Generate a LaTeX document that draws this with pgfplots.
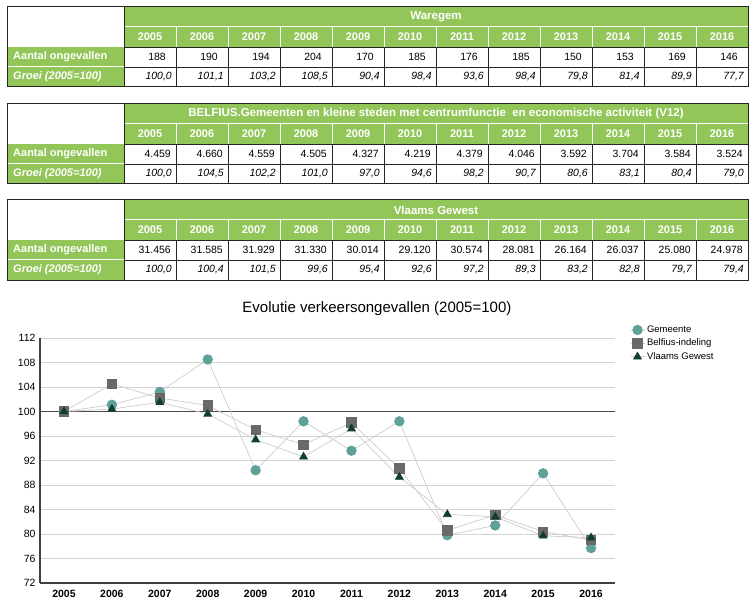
\documentclass[border=0pt]{standalone}
\usepackage{pgfplots}
\pgfplotsset{compat=1.18}
\usepackage{fontspec}
\setmainfont{Liberation Sans}
\definecolor{tg}{RGB}{146,198,88}
\definecolor{gem}{RGB}{95,160,155}
\definecolor{bel}{RGB}{105,105,105}
\definecolor{vla}{RGB}{16,62,50}
\tikzset{
  tnum/.style={font=\fontsize{10.5}{12}\selectfont},
  tnumi/.style={font=\fontsize{10.5}{12}\selectfont\itshape},
  thd/.style={text=white,font=\fontsize{11}{12}\selectfont\bfseries},
  ttl/.style={text=white,font=\fontsize{11.5}{12}\selectfont\bfseries},
  thdi/.style={text=white,font=\fontsize{11}{12}\selectfont\bfseries\itshape},
}
% #1 top y (px), #2 title, #3 counts, #4 growth, #5 right padding of counts
\newcommand{\drawtable}[5]{%
\begin{scope}[x=1pt,y=-1pt,shift={(0pt,606pt)},every node/.style={inner sep=0pt}]
\fill[tg] (124,#1) rectangle (748,#1+40);
\fill[tg] (7,#1+40) rectangle (124,#1+80);
\draw[white,line width=1pt] (124,#1+20) -- (748,#1+20);
\foreach \k in {1,...,11}{\draw[white,line width=1pt] ({124+52*\k},#1+20) -- ({124+52*\k},#1+40);}
\draw[white,line width=1pt] (7,#1+60) -- (124,#1+60);
\draw[black!85,line width=0.8pt] (124,#1+40) -- (748,#1+40) (124,#1+60) -- (748,#1+60);
\foreach \k in {1,...,11}{\draw[black!85,line width=0.8pt] ({124+52*\k},#1+40) -- ({124+52*\k},#1+80);}
\draw[black!85,line width=1pt] (7,#1) rectangle (748,#1+80) (124,#1) -- (124,#1+80);
\node[ttl] at (436,#1+10) {#2};
\foreach \k in {0,...,11}{\pgfmathtruncatemacro{\yr}{2005+\k}\node[thd] at ({150+52*\k},#1+30) {\yr};}
\node[thd,anchor=west] at (13,#1+50) {Aantal ongevallen};
\node[thdi,anchor=west] at (13,#1+70) {Groei (2005=100)};
\foreach \v [count=\i] in {#3}{\node[tnum,anchor=east] at ({124+52*\i-#5},#1+50) {\v};}
\foreach \v [count=\i] in {#4}{\node[tnumi,anchor=east] at ({124+52*\i-4},#1+70) {\v};}
\end{scope}}
\begin{document}
\begin{tikzpicture}
\useasboundingbox (0,0) rectangle (752pt,606pt);
\drawtable{7}{Waregem}{188,190,194,204,170,185,176,185,150,153,169,146}{{100,0},{101,1},{103,2},{108,5},{90,4},{98,4},{93,6},{98,4},{79,8},{81,4},{89,9},{77,7}}{10}
\drawtable{104}{BELFIUS.Gemeenten en kleine steden met centrumfunctie\ \ en economische activiteit (V12)}{4.459,4.660,4.559,4.505,4.327,4.219,4.379,4.046,3.592,3.704,3.584,3.524}{{100,0},{104,5},{102,2},{101,0},{97,0},{94,6},{98,2},{90,7},{80,6},{83,1},{80,4},{79,0}}{5}
\drawtable{200}{Vlaams Gewest}{31.456,31.585,31.929,31.330,30.014,29.120,30.574,28.081,26.164,26.037,25.080,24.978}{{100,0},{100,4},{101,5},{99,6},{95,4},{92,6},{97,2},{89,3},{83,2},{82,8},{79,7},{79,4}}{5}
\begin{axis}[
  at={(40pt,23pt)}, anchor=south west, scale only axis,
  width=575pt, height=245pt,
  xmin=2004.5, xmax=2016.5, ymin=72, ymax=112,
  xtick={2005,2006,...,2016}, ytick={72,76,...,112},
  /pgf/number format/assume math mode=true,
  /pgf/number format/1000 sep={},
  xticklabel style={font=\fontsize{10.5}{11}\selectfont\bfseries, yshift=-4pt},
  yticklabel style={font=\fontsize{10.5}{11}\selectfont, xshift=-1pt},
  axis x line*=bottom, axis y line*=left,
  axis line style={black!75, line width=1.3pt},
  ymajorgrids, major grid style={gray!35, line width=0.8pt},
  major tick length=0pt,
  extra y ticks={100}, extra y tick labels={},
  extra y tick style={major grid style={black!70, line width=1.4pt}},
  title={Evolutie verkeersongevallen (2005=100)},
  title style={at={(0.586,1)}, anchor=center, yshift=23pt, font=\fontsize{15}{17}\selectfont},
  legend style={at={(1.026,1.061)}, anchor=north west, draw=none, fill=none, inner sep=0pt, row sep=0pt, font=\fontsize{9.5}{10}\selectfont, nodes={inner sep=2.2pt, text height=7pt, text depth=2pt}},
  legend cell align=left,
  legend image code/.code={\draw[mark repeat=2,mark phase=2,#1] plot coordinates {(0pt,0pt) (7pt,0pt) (14pt,0pt)};},
  clip=false,
]
\addplot[gray!40, line width=0.7pt, mark=*, mark size=4.8pt, mark options={fill=gem, draw=gem}] coordinates {
(2005,100.0) (2006,101.1) (2007,103.2) (2008,108.5) (2009,90.4) (2010,98.4) (2011,93.6) (2012,98.4) (2013,79.8) (2014,81.4) (2015,89.9) (2016,77.7)};
\addplot[gray!40, line width=0.7pt, mark=square*, mark size=4.7pt, mark options={fill=bel, draw=bel}] coordinates {
(2005,100.0) (2006,104.5) (2007,102.2) (2008,101.0) (2009,97.0) (2010,94.6) (2011,98.2) (2012,90.7) (2013,80.6) (2014,83.1) (2015,80.4) (2016,79.0)};
\addplot[gray!40, line width=0.7pt, mark=triangle*, mark size=4.5pt, mark options={fill=vla, draw=vla}] coordinates {
(2005,100.0) (2006,100.4) (2007,101.5) (2008,99.6) (2009,95.4) (2010,92.6) (2011,97.2) (2012,89.3) (2013,83.2) (2014,82.8) (2015,79.7) (2016,79.4)};
\legend{Gemeente, Belfius-indeling, Vlaams Gewest}
\end{axis}
\end{tikzpicture}
\end{document}
